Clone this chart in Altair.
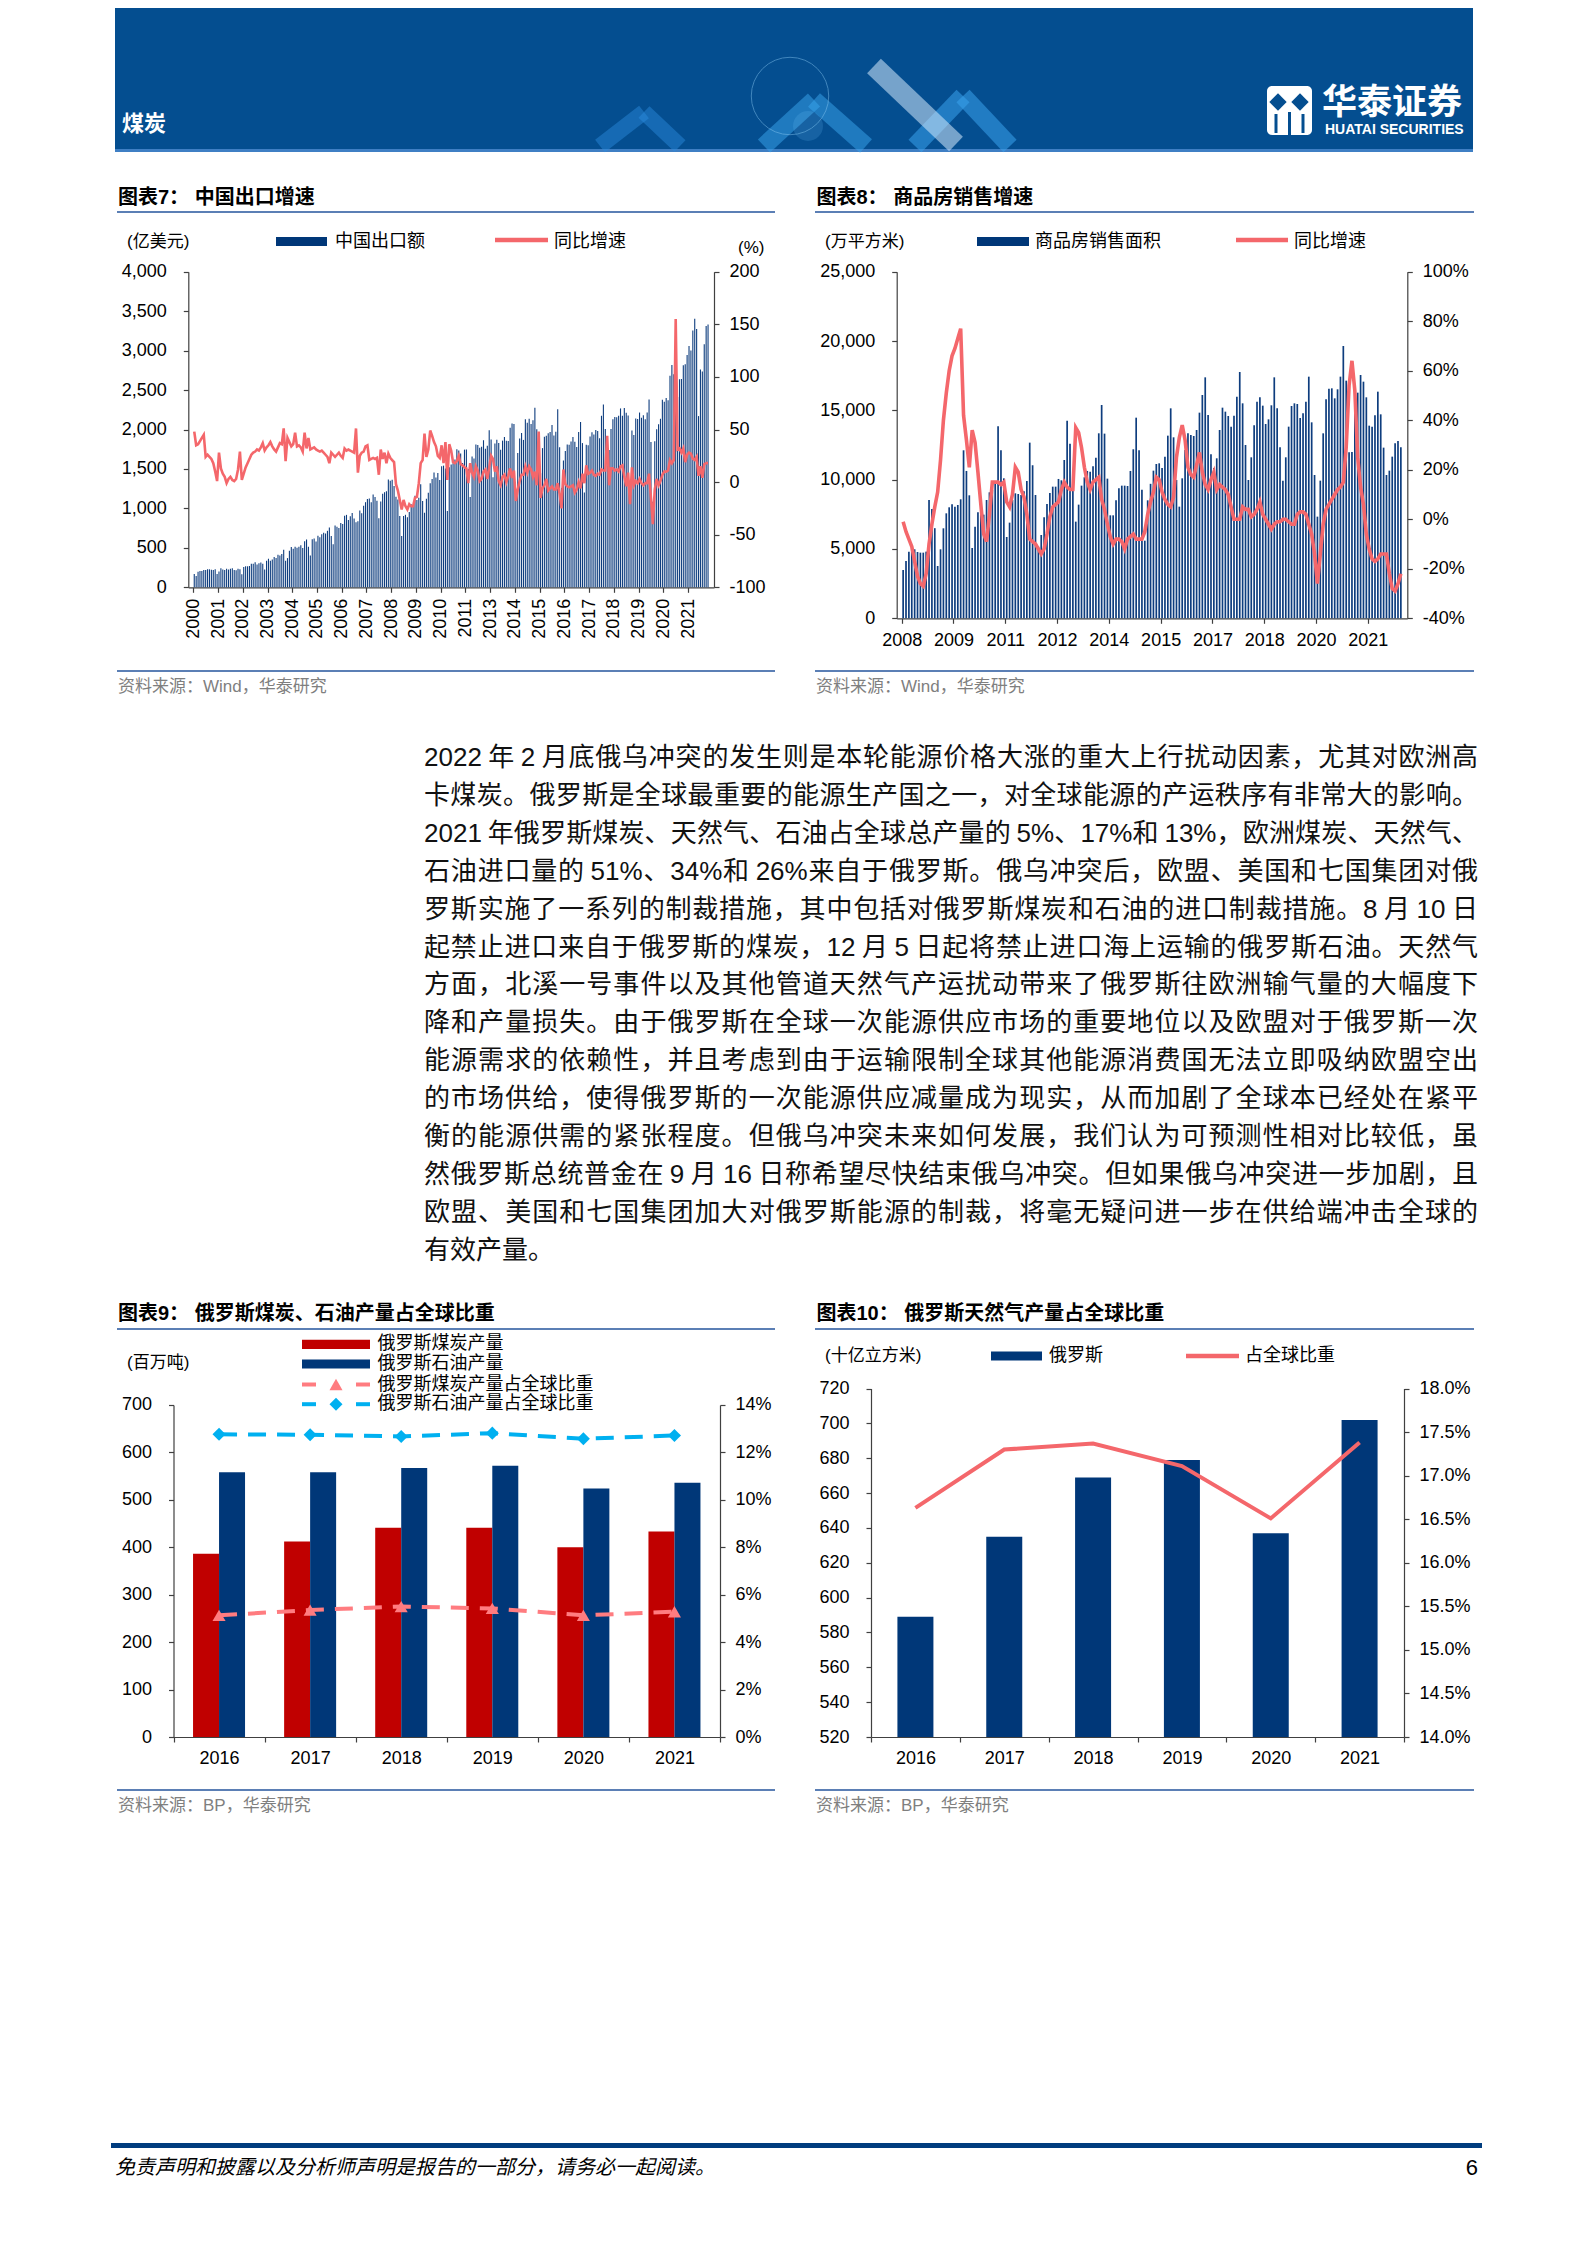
import re
import altair as alt
import pandas as pd

W, H = 1571, 2220
MIX = "Liberation Sans, Noto Sans CJK SC"
LAT = "Liberation Sans"
NAVY = "#0E3D7E"
DEEP = "#003778"
RED = "#F4676B"
RULE_BLUE = "#5B7FB5"
GRAY = "#7F7F7F"

# ---------------- 图表7：中国出口增速 (monthly, 2000-01 .. 2022-07) ----------------
exports7 = [
    169, 144, 198, 207, 207, 220, 220, 228, 228, 224, 220, 230,        # 2000
    170, 200, 240, 225, 220, 235, 225, 235, 240, 220, 215, 235,        # 2001
    229, 166, 258, 268, 266, 269, 298, 298, 316, 288, 304, 315,        # 2002
    300, 227, 338, 362, 338, 353, 384, 370, 414, 402, 422, 475,        # 2003
    336, 370, 462, 512, 489, 514, 500, 515, 533, 498, 584, 606,        # 2004
    513, 402, 608, 620, 579, 652, 635, 673, 691, 683, 716, 757,        # 2005
    650, 547, 782, 767, 753, 814, 803, 908, 918, 853, 899, 941,        # 2006
    871, 825, 838, 973, 937, 1033, 1079, 1118, 1127, 1077, 1176, 1144,  # 2007
    1097, 874, 1089, 1187, 1205, 1216, 1367, 1349, 1364, 1283, 1149, 1112,  # 2008
    905, 649, 903, 919, 888, 954, 1054, 1037, 1159, 1108, 1136, 1307,  # 2009
    1095, 945, 1121, 1199, 1318, 1374, 1455, 1393, 1449, 1359, 1533, 1542,  # 2010
    1507, 967, 1522, 1557, 1572, 1619, 1751, 1733, 1697, 1575, 1745, 1747,  # 2011
    1499, 1145, 1657, 1633, 1811, 1802, 1769, 1780, 1864, 1756, 1794, 1992,  # 2012
    1874, 1394, 1822, 1871, 1828, 1743, 1859, 1906, 1856, 1854, 2022, 2077,  # 2013
    2071, 1141, 1701, 1885, 1955, 1868, 2129, 2085, 2137, 2069, 2116, 2275,  # 2014
    2004, 1692, 1446, 1764, 1908, 1920, 1953, 1968, 2056, 1924, 1972, 2256,  # 2015
    1775, 1260, 1608, 1728, 1811, 1808, 1847, 1906, 1845, 1779, 1968, 2094,  # 2016
    1828, 1201, 1806, 1800, 1912, 1966, 1936, 1993, 1981, 1888, 2174, 2318,  # 2017
    2005, 1719, 1740, 2005, 2129, 2158, 2155, 2174, 2267, 2173, 2274, 2212,  # 2018
    2177, 1352, 1986, 1930, 2139, 2133, 2215, 2148, 2181, 2129, 2217, 2380,  # 2019
    1841, 1083, 1851, 2003, 2068, 2136, 2376, 2353, 2398, 2372, 2681, 2816,  # 2020
    2700, 2760, 2411, 2637, 2639, 2815, 2826, 2943, 3057, 3000, 3256, 3404,  # 2021
    3275, 2170, 2760, 2736, 3082, 3313, 3330,                              # 2022
]
yoy7 = [
    48, 35, 36, 39, 42, 45, 24, 26, 24, 22, 18, 10,
    1, 28, 13, 8, 5, -1, 3, 5, 2, 1, 3, 12,
    29, 2, 8, 14, 18, 22, 26, 28, 29, 31, 30, 33,
    37, 30, 33, 35, 38, 34, 31, 29, 33, 37, 36, 51,
    20, 42, 38, 34, 36, 47, 34, 35, 33, 29, 47, 32,
    42, 31, 32, 33, 31, 30, 29, 30, 28, 26, 24, 18,
    28, 26, 24, 26, 28, 25, 23, 32, 30, 31, 30, 29,
    28, 51, 9, 25, 28, 29, 34, 35, 21, 22, 23, 22,
    23, 7, 31, 22, 28, 18, 27, 23, 21, 19, -2, -8,
    -17, -26, -17, -23, -26, -21, -23, -23, -15, -14, -1, 18,
    21, 46, 24, 31, 49, 44, 38, 34, 25, 23, 35, 18,
    38, 2, 36, 30, 19, 18, 20, 25, 17, 16, 14, 13,
    -1, 18, 9, 5, 15, 11, 1, 3, 10, 12, 3, 14,
    25, 22, 10, 15, 1, -3, 5, 7, 0, 6, 13, 4,
    11, -18, -7, 1, 7, 7, 15, 9, 15, 12, 5, 10,
    -3, 48, -15, -6, -3, 3, -8, -6, -4, -7, -7, -1,
    -11, -25, 12, -2, -4, -5, -4, -3, -10, -7, 0, -6,
    8, -1, 16, 8, 9, 11, 7, 6, 8, 7, 12, 11,
    11, 44, -3, 13, 13, 11, 12, 10, 15, 16, 5, -4,
    9, -21, 14, -3, 1, -1, 3, -1, -3, -1, -1, 8,
    -15, -40, -7, 3, -3, 1, 7, 10, 10, 11, 21, 18,
    21, 155, 31, 32, 28, 32, 19, 26, 28, 27, 22, 21,
    24, 6, 15, 4, 17, 18, 18,
]
tick7 = list(range(0, 261, 13))          # category tick interval of 13 months

# ---------------- 图表8：商品房销售增速 (monthly, 174 periods from 2008) ----------------
area8 = [
    3486, 4135, 4808, 5120, 4976, 4784, 4736, 4736, 4808, 8534, 7885, 6500,
    3774, 4976, 6491, 7572, 8006, 8222, 8054, 8174, 8583, 12118, 10627, 8871,
    5072, 6611, 7644, 7476, 7476, 8534, 9087, 9255, 9784, 13850, 12118, 10098,
    5866, 6900, 8534, 9015, 8967, 8895, 9159, 9904, 12670, 11036, 8895, 5169,
    6010, 7284, 8246, 9039, 9496, 9496, 10050, 9952, 11420, 14255, 12598, 9952,
    6972, 8198, 9568, 10170, 10627, 10579, 10964, 11589, 13344, 15387, 13320, 10073,
    7428, 7428, 8510, 9375, 9568, 9568, 9544, 10627, 12190, 14471, 12117, 9279,
    5600, 8510, 9700, 10650, 11130, 11180, 10842, 11660, 13174, 15145, 13054, 9977,
    8053, 10097, 12140, 13342, 13222, 13150, 13583, 14833, 16107, 17381, 14664, 11828,
    10842, 11540, 13583, 15193, 14905, 14593, 13823, 14617, 15987, 17765, 15506, 12501,
    9977, 11612, 13919, 15626, 15939, 15338, 14015, 14352, 15362, 17381, 15145, 12333,
    9928, 11612, 13823, 15314, 15506, 15458, 14448, 14785, 15626, 17429, 14135, 10337,
    7332, 9928, 13342, 15794, 16564, 16588, 15866, 16516, 17429, 19641, 17141, 11972,
    12000, 15025, 16275, 17549, 17068, 15939, 13895, 13823, 14640, 16347, 14712, 12309,
    10337, 10650, 11660, 12621, 12790, 12333,
]
yoy8 = [
    -1, -5, -8, -11, -17, -23, -26, -27, -22, -10, -2, 5,
    11, 24, 40, 51, 60, 66, 69, 73, 77, 42, 32, 21,
    36, 31, 19, 6, -6, -9, 2, 15, 15, 15, 14, 15,
    7, 5, 10, 21, 19, 12, 9, 2, -8, -9, -10, -12,
    -14, -12, -6, 1, 5, 6, 7, 12, 15, 13, 12, 12,
    37, 35, 29, 21, 15, 12, 15, 16, 17, 8, 4, -2,
    -7, -10, -8, -8, -9, -12, -8, -7, -6, -8, -8, -8,
    -5, 2, 7, 11, 17, 16, 11, 8, 6, 5, 9, 25,
    33, 38, 32, 21, 18, 17, 22, 27, 19, 14, 12, 16,
    19, 12, 14, 13, 12, 10, 5, 0, 0, 0, 5, 4,
    4, 1, 2, 4, 7, 2, 0, -2, -4, -2, -1, -1,
    0, 0, -1, -2, -2, 2, 3, 3, 2, -2, -6, -14,
    -26, -14, -2, 4, 6, 8, 10, 12, 13, 15, 29, 54,
    64, 52, 25, 13, 6, -6, -12, -16, -17, -16, -14, -14,
    -14, -22, -28, -29, -26, -22,
]
tick8 = list(range(0, 163, 18))          # category tick interval of 18 months

# ---------------- 图表9 / 图表10 ----------------
years = ["2016", "2017", "2018", "2019", "2020", "2021"]
coal9 = [386, 412, 441, 441, 400, 433]
oil9 = [558, 558, 567, 572, 524, 536]
coal_share9 = [5.13, 5.35, 5.50, 5.42, 5.13, 5.28]
oil_share9 = [12.76, 12.74, 12.67, 12.81, 12.57, 12.71]
gas10 = [589, 635, 669, 679, 637, 702]
gas_share10 = [16.63, 17.30, 17.37, 17.11, 16.51, 17.38]

# ---------------- text ----------------
body_lines = [
    "2022 年 2 月底俄乌冲突的发生则是本轮能源价格大涨的重大上行扰动因素，尤其对欧洲高",
    "卡煤炭。俄罗斯是全球最重要的能源生产国之一，对全球能源的产运秩序有非常大的影响。",
    "2021 年俄罗斯煤炭、天然气、石油占全球总产量的 5%、17%和 13%，欧洲煤炭、天然气、",
    "石油进口量的 51%、34%和 26%来自于俄罗斯。俄乌冲突后，欧盟、美国和七国集团对俄",
    "罗斯实施了一系列的制裁措施，其中包括对俄罗斯煤炭和石油的进口制裁措施。8 月 10 日",
    "起禁止进口来自于俄罗斯的煤炭，12 月 5 日起将禁止进口海上运输的俄罗斯石油。天然气",
    "方面，北溪一号事件以及其他管道天然气产运扰动带来了俄罗斯往欧洲输气量的大幅度下",
    "降和产量损失。由于俄罗斯在全球一次能源供应市场的重要地位以及欧盟对于俄罗斯一次",
    "能源需求的依赖性，并且考虑到由于运输限制全球其他能源消费国无法立即吸纳欧盟空出",
    "的市场供给，使得俄罗斯的一次能源供应减量成为现实，从而加剧了全球本已经处在紧平",
    "衡的能源供需的紧张程度。但俄乌冲突未来如何发展，我们认为可预测性相对比较低，虽",
    "然俄罗斯总统普金在 9 月 16 日称希望尽快结束俄乌冲突。但如果俄乌冲突进一步加剧，且",
    "欧盟、美国和七国集团加大对俄罗斯能源的制裁，将毫无疑问进一步在供给端冲击全球的",
    "有效产量。",
]


# ---------------- helpers for page furniture ----------------
def texts(rows, size, color="#000000", weight="normal", align="left",
          baseline="middle", font=MIX, style="normal"):
    df = pd.DataFrame(rows, columns=["t", "x", "y"])
    return alt.Chart(df).mark_text(
        fontSize=size, color=color, fontWeight=weight, align=align,
        baseline=baseline, font=font, fontStyle=style
    ).encode(
        x=alt.X("x:Q", scale=None, axis=None),
        y=alt.Y("y:Q", scale=None, axis=None),
        text="t:N",
    )


def rules(rows, color, width, dash=None, opacity=1.0, cap="butt"):
    df = pd.DataFrame(rows, columns=["x", "x2", "y", "y2"])
    mk = dict(color=color, strokeWidth=width, opacity=opacity, strokeCap=cap)
    if dash:
        mk["strokeDash"] = dash
    return alt.Chart(df).mark_rule(**mk).encode(
        x=alt.X("x:Q", scale=None, axis=None), x2="x2:Q",
        y=alt.Y("y:Q", scale=None, axis=None), y2="y2:Q",
    )


def rects(rows, color, corner=0, opacity=1.0):
    df = pd.DataFrame(rows, columns=["x", "x2", "y", "y2"])
    return alt.Chart(df).mark_rect(color=color, cornerRadius=corner, opacity=opacity).encode(
        x=alt.X("x:Q", scale=None, axis=None), x2="x2:Q",
        y=alt.Y("y:Q", scale=None, axis=None), y2="y2:Q",
    )


def points(rows, shape, size, color, filled=True, opacity=1.0, sw=1):
    df = pd.DataFrame(rows, columns=["x", "y"])
    return alt.Chart(df).mark_point(
        shape=shape, size=size, color=color, filled=filled, opacity=opacity, strokeWidth=sw
    ).encode(
        x=alt.X("x:Q", scale=None, axis=None),
        y=alt.Y("y:Q", scale=None, axis=None),
    )


def yaxis(orient, offset, values, pad, expr=None, fmt=None):
    kw = dict(orient=orient, offset=offset, values=values, labelPadding=pad,
              tickSize=5, grid=False, title=None, labelOverlap=False)
    if expr:
        kw["labelExpr"] = expr
    if fmt:
        kw["format"] = fmt
    return alt.Axis(**kw)


# ---------------- chart 7 ----------------
df7 = pd.DataFrame({"i": [k + 0.5 for k in range(len(exports7))], "v": exports7, "g": yoy7})
X7 = [180.3, 706.0]
Y7 = [579.3, 263.7]
x7 = alt.X("i:Q", title=None,
           scale=alt.Scale(domain=[0, len(exports7)], range=X7, nice=False, zero=False),
           axis=alt.Axis(orient="bottom", offset=Y7[0] - H, values=tick7,
                         labelExpr="'' + (2000 + floor(datum.value / 12))",
                         labelAngle=-90, labelFlush=False, labelOverlap=False,
                         tickSize=5, labelPadding=6, title=None))
bars7 = alt.Chart(df7).mark_bar(color=NAVY, size=1.1).encode(
    x=x7,
    y=alt.Y("v:Q", title=None, scale=alt.Scale(domain=[0, 4000], range=Y7, nice=False, zero=False),
            axis=yaxis("left", -X7[0], list(range(0, 4001, 500)), 17,
                       expr="format(datum.value, ',.0f')")),
    y2=alt.Y2Datum(0),
)
line7 = alt.Chart(df7).mark_line(color=RED, strokeWidth=2.6).encode(
    x=alt.X("i:Q", title=None),
    y=alt.Y("g:Q", title=None, scale=alt.Scale(domain=[-100, 200], range=Y7, nice=False, zero=False),
            axis=yaxis("right", X7[1] - W, list(range(-100, 201, 50)), 10,
                       expr="'' + datum.value")),
)
chart7 = alt.layer(bars7, line7).resolve_scale(y="independent")

# ---------------- chart 8 ----------------
df8 = pd.DataFrame({"i": [k + 0.5 for k in range(len(area8))], "v": area8, "g": yoy8})
X8 = [888.7, 1399.3]
Y8 = [610.3, 263.7]
x8 = alt.X("i:Q", title=None,
           scale=alt.Scale(domain=[0, len(area8)], range=X8, nice=False, zero=False),
           axis=alt.Axis(orient="bottom", offset=Y8[0] - H, values=tick8,
                         labelExpr="'' + (2008 + floor(datum.value / 12))",
                         labelAngle=0, labelFlush=False, labelOverlap=False,
                         tickSize=5, labelPadding=8, title=None))
bars8 = alt.Chart(df8).mark_bar(color=NAVY, size=1.7).encode(
    x=x8,
    y=alt.Y("v:Q", title=None, scale=alt.Scale(domain=[0, 25000], range=Y8, nice=False, zero=False),
            axis=yaxis("left", -X8[0], list(range(0, 25001, 5000)), 17,
                       expr="format(datum.value, ',.0f')")),
    y2=alt.Y2Datum(0),
)
line8 = alt.Chart(df8).mark_line(color=RED, strokeWidth=3.6).encode(
    x=alt.X("i:Q", title=None),
    y=alt.Y("g:Q", title=None, scale=alt.Scale(domain=[-40, 100], range=Y8, nice=False, zero=False),
            axis=yaxis("right", X8[1] - W, list(range(-40, 101, 20)), 10,
                       expr="'' + datum.value + '%'")),
)
chart8 = alt.layer(bars8, line8).resolve_scale(y="independent")

# ---------------- chart 9 ----------------
df9 = pd.DataFrame({"year": years, "coal": coal9, "oil": oil9,
                    "cs": coal_share9, "os": oil_share9})
X9 = [165.5, 712.0]
Y9 = [1729.0, 1396.9]
x9 = alt.X("year:O", title=None,
           scale=alt.Scale(domain=years, range=X9, paddingInner=0, paddingOuter=0),
           axis=alt.Axis(orient="bottom", offset=Y9[0] - H, tickBand="extent", labelAngle=0,
                         labelPadding=7, tickSize=5, title=None))
yl9 = alt.Scale(domain=[0, 700], range=Y9, nice=False, zero=False)
coal_bar = alt.Chart(df9).mark_bar(color="#C00000", width=26, xOffset=-13).encode(
    x=x9, y=alt.Y("coal:Q", title=None, scale=yl9,
                  axis=yaxis("left", -X9[0], list(range(0, 701, 100)), 17,
                             expr="'' + datum.value")),
    y2=alt.Y2Datum(0))
oil_bar = alt.Chart(df9).mark_bar(color=DEEP, width=26, xOffset=13).encode(
    x=alt.X("year:O", title=None), y=alt.Y("oil:Q", title=None), y2=alt.Y2Datum(0))
yr9 = alt.Scale(domain=[0, 14], range=Y9, nice=False, zero=False)
coal_line = alt.Chart(df9).mark_line(color="#FF7C80", strokeWidth=4, strokeDash=[18, 11]).encode(
    x=alt.X("year:O", title=None),
    y=alt.Y("cs:Q", title=None, scale=yr9,
            axis=yaxis("right", X9[1] - W, list(range(0, 15, 2)), 10,
                       expr="'' + datum.value + '%'")))
coal_pts = alt.Chart(df9).mark_point(shape="triangle-up", filled=True, size=170,
                                     color="#FF7C80", opacity=1).encode(
    x=alt.X("year:O", title=None), y=alt.Y("cs:Q", title=None))
oil_line = alt.Chart(df9).mark_line(color="#00B0F0", strokeWidth=4, strokeDash=[18, 11]).encode(
    x=alt.X("year:O", title=None), y=alt.Y("os:Q", title=None))
oil_pts = alt.Chart(df9).mark_point(shape="diamond", filled=True, size=170,
                                    color="#00B0F0", opacity=1).encode(
    x=alt.X("year:O", title=None), y=alt.Y("os:Q", title=None))
chart9 = alt.layer(alt.layer(coal_bar, oil_bar),
                   alt.layer(coal_line, coal_pts, oil_line, oil_pts)).resolve_scale(y="independent")

# ---------------- chart 10 ----------------
df10 = pd.DataFrame({"year": years, "gas": gas10, "share": gas_share10})
X10 = [863.0, 1396.0]
Y10 = [1729.0, 1380.6]
x10 = alt.X("year:O", title=None,
            scale=alt.Scale(domain=years, range=X10, paddingInner=0, paddingOuter=0),
            axis=alt.Axis(orient="bottom", offset=Y10[0] - H, tickBand="extent", labelAngle=0,
                          labelPadding=7, tickSize=5, title=None))
bars10 = alt.Chart(df10).mark_bar(color=DEEP, width=36).encode(
    x=x10,
    y=alt.Y("gas:Q", title=None, scale=alt.Scale(domain=[520, 720], range=Y10, nice=False, zero=False),
            axis=yaxis("left", -X10[0], list(range(520, 721, 20)), 17,
                       expr="'' + datum.value")),
    y2=alt.Y2Datum(520))
line10 = alt.Chart(df10).mark_line(color=RED, strokeWidth=4).encode(
    x=alt.X("year:O", title=None),
    y=alt.Y("share:Q", title=None, scale=alt.Scale(domain=[14, 18], range=Y10, nice=False, zero=False),
            axis=yaxis("right", X10[1] - W, [14 + 0.5 * k for k in range(9)], 10,
                       expr="format(datum.value, '.1f') + '%'")))
chart10 = alt.layer(bars10, line10).resolve_scale(y="independent")

# ---------------- header ----------------
header = [
    rects([(107, 1465, 0, 143)], "#044E90"),
    rects([(107, 1465, 141, 144)], "#3F7FC4"),
    rules([(592, 636, 138, 104), (636, 672, 104, 138)], "#2D8FE0", 16, opacity=0.45),
    rules([(756, 806, 138, 92), (806, 858, 92, 138)], "#39A6EE", 18, opacity=0.5),
    rules([(907, 955, 138, 88), (955, 1002, 88, 138)], "#3AA2EC", 18, opacity=0.55),
    rules([(866, 948, 58, 136)], "#D5EAFB", 20, opacity=0.55),
    points([(782, 88)], "circle", 6000, "#8CCBF5", filled=False, opacity=0.45, sw=1),
    points([(800, 118)], "circle", 900, "#6FC2F7", filled=True, opacity=0.18),
    rects([(1259, 1304, 78, 127)], "#FFFFFF", corner=5),
    points([(1270, 94), (1292, 94)], "diamond", 300, "#044E90"),
    rules([(1268, 1268, 106, 125), (1281.5, 1281.5, 104, 127), (1295, 1295, 106, 125)],
          "#044E90", 3),
    texts([("华泰证券", 1314, 95)], 35, color="#FFFFFF", weight="bold"),
    texts([("HUATAI SECURITIES", 1317, 122)], 14, color="#FFFFFF", weight="bold", font=LAT),
    texts([("煤炭", 114, 116)], 22, color="#FFFFFF", weight="bold"),
]

# ---------------- chart furniture (titles, legends, sources) ----------------
furniture = [
    texts([("图表7： 中国出口增速", 110, 190), ("图表8： 商品房销售增速", 808.5, 190),
           ("图表9： 俄罗斯煤炭、石油产量占全球比重", 110, 1306),
           ("图表10： 俄罗斯天然气产量占全球比重", 808.5, 1306)], 20, weight="bold"),
    rules([(109, 767, 204, 204), (807, 1466, 204, 204), (109, 767, 663, 663), (807, 1466, 663, 663),
           (109, 767, 1321, 1321), (807, 1466, 1321, 1321), (109, 767, 1782, 1782),
           (807, 1466, 1782, 1782)], RULE_BLUE, 2),
    texts([("资料来源：Wind，华泰研究", 110, 679), ("资料来源：Wind，华泰研究", 808, 679),
           ("资料来源：BP，华泰研究", 110, 1798), ("资料来源：BP，华泰研究", 808, 1798)],
          17, color=GRAY),
    # units
    texts([("(亿美元)", 119, 234), ("(万平方米)", 817, 234), ("(百万吨)", 119, 1355),
           ("(十亿立方米)", 817, 1348), ("(%)", 730, 240)], 17),
    # legends chart 7 / 8 / 10
    rects([(268, 319, 229, 238), (969, 1021, 229, 238), (983, 1034, 1343.5, 1352.5)], DEEP),
    rules([(487, 540, 232, 232), (1228, 1280, 232, 232), (1178, 1231, 1348, 1348)], RED, 4.5),
    texts([("中国出口额", 327, 234), ("同比增速", 546, 234), ("商品房销售面积", 1027, 234),
           ("同比增速", 1286, 234), ("俄罗斯", 1041, 1348), ("占全球比重", 1237, 1348)], 18),
    # legend chart 9
    rects([(294, 362, 1331.7, 1340.9)], "#C00000"),
    rects([(294, 362, 1351.4, 1360.6)], DEEP),
    rules([(294, 308, 1376.5, 1376.5), (348, 362, 1376.5, 1376.5)], "#FF7C80", 4),
    rules([(294, 308, 1396.2, 1396.2), (348, 362, 1396.2, 1396.2)], "#00B0F0", 4),
    points([(328, 1376.5)], "triangle-up", 170, "#FF7C80"),
    points([(328, 1396.2)], "diamond", 170, "#00B0F0"),
    texts([("俄罗斯煤炭产量", 369.5, 1336.3), ("俄罗斯石油产量", 369.5, 1356),
           ("俄罗斯煤炭产量占全球比重", 369.5, 1376.5), ("俄罗斯石油产量占全球比重", 369.5, 1396.2)], 18),
]


# ---------------- body text, justified line by line ----------------
def tok_w(tok, fs):
    w = 0.0
    for ch in tok:
        if ch.isdigit():
            w += 0.556
        elif ch == "%":
            w += 0.889
        elif ord(ch) < 128:
            w += 0.556
        else:
            w += 1.0
    return w * fs


FS = 26
X0, X1 = 416.0, 1470.0
rows_body = []
for li, line in enumerate(body_lines):
    parts = re.findall(r" |[\x21-\x7e]+|[^\x00-\x7f]", line)
    toks = []
    sp = False
    for p in parts:
        if p == " ":
            sp = True
            continue
        toks.append((p, tok_w(p, FS), sp))
        sp = False
    gap_sp = 0.22 * FS
    natural = sum(t[1] for t in toks) + sum(gap_sp for t in toks if t[2])
    last = li == len(body_lines) - 1
    extra = 0.0 if last or len(toks) < 2 else (X1 - X0 - natural) / (len(toks) - 1)
    x = X0
    y = 750 + 37.9 * li
    for t, w, s in toks:
        if s:
            x += gap_sp
        rows_body.append((t, round(x, 2), round(y, 2)))
        x += w + extra
body = texts(rows_body, FS, color="#111111")

footer = [
    rects([(103, 1474, 2135, 2140)], "#003C7E"),
    texts([("免责声明和披露以及分析师声明是报告的一部分，请务必一起阅读。", 107, 2160)], 20,
          style="italic"),
    texts([("6", 1470, 2160)], 22, align="right", font=LAT),
]

chart = alt.layer(
    *header, *furniture, chart7, chart8, body, chart9, chart10, *footer
).resolve_scale(x="independent", y="independent").properties(
    width=W, height=H, padding=0, background="#FFFFFF"
).configure_view(strokeWidth=0).configure_axis(
    grid=False, labelFont=LAT, labelFontSize=18, labelColor="#000000",
    domainColor="#404040", tickColor="#404040", domainWidth=1.2, tickWidth=1.2,
)

chart.save("out.html", embed_options={"renderer": "svg", "actions": False})
